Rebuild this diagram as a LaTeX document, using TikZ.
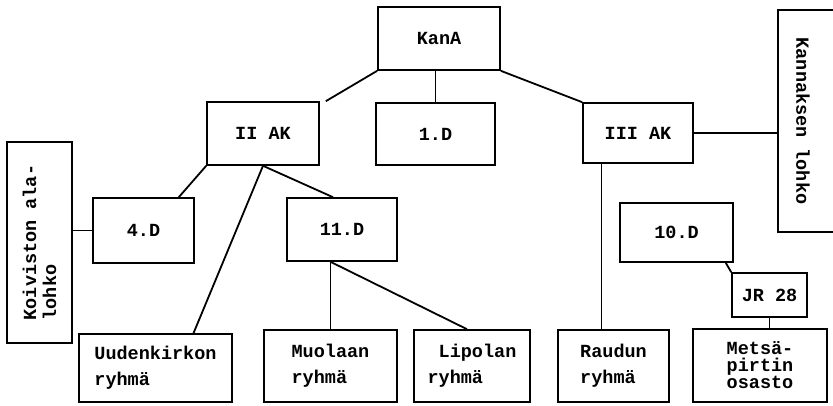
\documentclass[tikz,border=0pt]{standalone}
\usepackage{fontspec}
\setmonofont{Liberation Mono}
\begin{document}
\begin{tikzpicture}[x=1pt,y=-1pt,
    unit/.style={draw,line width=1.6pt,inner sep=0pt,align=left,
      font=\ttfamily\bfseries\fontsize{18.5}{26}\selectfont},
    link/.style={line width=1.8pt}]
        \useasboundingbox (0,0) rectangle (833,405);
        %% Blocks
        \node[unit,minimum width=122,minimum height=63] (kana) at (439,38.5) {KanA};
        \node[unit,minimum width=112,minimum height=63] (iiak) at (263,133.5) {II AK};
        \node[unit,minimum width=119,minimum height=62] (d1) at (435.5,134) {1.D};
        \node[unit,minimum width=110,minimum height=60] (iiiak) at (638,133) {III AK};
        \node[unit,rotate=-90,minimum width=222,minimum height=67] (kannas) at (811.5,121) {};
        \node[unit,draw=none,rotate=-90] (kannasT) at (803,121) {Kannaksen lohko};
        \node[unit,rotate=90,minimum width=201,minimum height=65,
          font=\ttfamily\bfseries\fontsize{18.5}{20}\selectfont] (koiv) at (39.5,242.5) {Koiviston ala-\\lohko};
        \node[unit,minimum width=101,minimum height=65] (d4) at (143.5,230.5) {4.D};
        \node[unit,minimum width=110,minimum height=63] (d11) at (342,229.5) {11.D};
        \node[unit,minimum width=113,minimum height=59] (d10) at (676.5,232.5) {10.D};
        \node[unit,minimum width=75,minimum height=44] (jr) at (769.5,295) {JR 28};
        %% groups
        \node[unit,minimum width=153,minimum height=68] (uuden) at (155.5,368) {Uudenkirkon\\ryhmä};
        \node[unit,minimum width=133,minimum height=72] (muol) at (330.5,366) {Muolaan\\ryhmä};
        \node[unit,minimum width=116,minimum height=72] (lip) at (472,366) {\ Lipolan\\ryhmä};
        \node[unit,minimum width=111,minimum height=72] (raud) at (613.5,366) {Raudun\\ryhmä};
        \node[unit,minimum width=134,minimum height=73,
          font=\ttfamily\bfseries\fontsize{18.5}{17}\selectfont] (mets) at (760,365.5) {Metsä-\\pirtin\\osasto};
        %% Lines
        \draw[link] (kana.south west) -- ([xshift=6pt]iiak.north east);
        \draw[link] (d1.north) -- (d1.north |- kana.south);
        \draw[link] (kana.south east) -- (iiiak.north west);
        \draw[link] (iiiak.east) -- (iiiak.east -| kannas.south);
        \draw[link] (d4.west) -- (d4.west -| koiv.south);
        \draw[link] (iiak.south west) -- ([xshift=-16pt]d4.north east);
        \draw[link] (iiak.south) -- ([xshift=-9pt]d11.north);
        \draw[link] (iiak.south) -- ([xshift=38pt]uuden.north);
        \draw[link] (muol.north) -- (muol.north |- d11.south);
        \draw[link] (muol.north |- d11.south) -- ([xshift=-5pt]lip.north);
        \draw[link] ([xshift=-12pt]raud.north) -- ([xshift=-12pt]raud.north |- iiiak.south);
        \draw[link] ([xshift=-8pt]d10.south east) -- (jr.north west);
        \draw[link] (jr.south) -- (jr.south |- mets.north);
\end{tikzpicture}
\end{document}
